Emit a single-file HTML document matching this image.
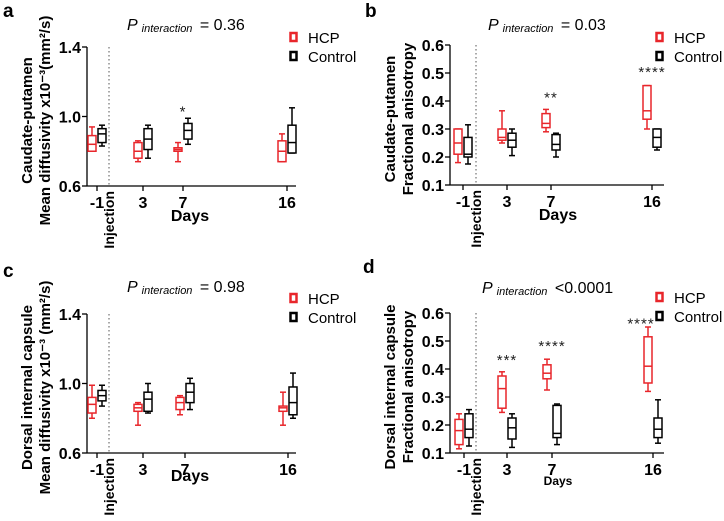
<!DOCTYPE html>
<html><head><meta charset="utf-8"><style>
body{margin:0;background:#fff;}
svg{display:block;font-family:"Liberation Sans",sans-serif;}
</style></head><body>
<svg id="fig" width="724" height="521" viewBox="0 0 724 521"></svg>
<script>
const days = ["-1","3","7","16"];
// [whiskerLow, q1, median, q3, whiskerHigh]
const aHCP  = [[.80,.80,.84,.89,.94],[.74,.76,.80,.85,.86],[.74,.80,.81,.82,.85],[.74,.74,.80,.86,.90]];
const aCtrl = [[.83,.85,.90,.93,.95],[.76,.81,.87,.93,.95],[.84,.87,.92,.96,.99],[.79,.79,.85,.95,1.05]];
const bHCP  = [[.18,.21,.25,.30,.30],[.25,.26,.27,.30,.365],[.29,.305,.32,.355,.37],[.30,.335,.365,.455,.455]];
const bCtrl = [[.175,.20,.21,.27,.315],[.205,.235,.26,.285,.30],[.20,.225,.245,.28,.285],[.225,.235,.27,.30,.30]];
const cHCP  = [[.80,.83,.88,.92,.99],[.76,.84,.86,.88,.89],[.82,.85,.89,.92,.93],[.76,.84,.86,.87,.95]];
const cCtrl = [[.87,.90,.93,.96,.99],[.83,.84,.91,.95,1.00],[.85,.89,.95,1.00,1.03],[.80,.82,.89,.98,1.06]];
const dHCP  = [[.115,.13,.18,.22,.24],[.245,.26,.33,.375,.39],[.325,.365,.385,.415,.435],[.32,.35,.41,.515,.55]];
const dCtrl = [[.125,.155,.185,.24,.255],[.12,.15,.19,.225,.24],[.13,.155,.17,.27,.275],[.135,.155,.185,.225,.29]];
const mdTicks = [0.6,1.0,1.4];
const faTicks = [0.1,0.2,0.3,0.4,0.5,0.6];
const bStars = [["",0],["",0],["**",0.42],["****",0.51]];
const dStars = [["",0],["***",0.44],["****",0.49],["****",0.57]];
const pVals = ["= 0.36","= 0.03","= 0.98","<0.0001"];

const NS="http://www.w3.org/2000/svg";
const svg=document.getElementById('fig');
function mk(tag,attrs,parent,text){const e=document.createElementNS(NS,tag);for(const k in attrs)e.setAttribute(k,attrs[k]);if(text!==undefined)e.textContent=text;(parent||svg).appendChild(e);return e;}
const RED="#e8262b";

const panels=[
 {letter:"a",lx:3,ly:17,ax:87,top:47,bot:186,xend:296,tx:[97,143,183,287],dot:109,vmin:.6,vmax:1.4,ticks:mdTicks,hcp:aHCP,ctrl:aCtrl,stars:[["",0],["",0],["*",1.04],["",0]],p:pVals[0],px:127,py:30,y1:"Caudate-putamen",y2:"Mean diffusivity x10\u207B\u00B3(mm\u00B2/s)",leg:[290,38],days:[190,221,15],oy:0},
 {letter:"b",lx:365,ly:17,ax:450,top:45,bot:185,xend:664,tx:[463,507,551,652],dot:476,vmin:.1,vmax:.6,ticks:faTicks,hcp:bHCP,ctrl:bCtrl,stars:bStars,p:pVals[1],px:488,py:30,y1:"Caudate-putamen",y2:"Fractional anisotropy",leg:[656,38],days:[558,220,15],oy:0},
 {letter:"c",lx:3,ly:277,ax:87,top:314,bot:453,xend:296,tx:[97,143,185,288],dot:109,vmin:.6,vmax:1.4,ticks:mdTicks,hcp:cHCP,ctrl:cCtrl,stars:[["",0],["",0],["",0],["",0]],p:pVals[2],px:127,py:292,y1:"Dorsal internal capsule",y2:"Mean diffusivity x10\u207B\u00B3 (mm\u00B2/s)",leg:[290,299],days:[190,481,15],oy:260},
 {letter:"d",lx:363,ly:273,ax:450,top:313,bot:453,xend:664,tx:[464,507,552,653],dot:476,vmin:.1,vmax:.6,ticks:faTicks,hcp:dHCP,ctrl:dCtrl,stars:dStars,p:pVals[3],px:482,py:293,y1:"Dorsal internal capsule",y2:"Fractional anisotropy",leg:[656,298],days:[558,485,11],oy:260}
];

panels.forEach((P,pi)=>{
  const g=mk('g',{});
  
  
  const y=v=>P.bot-(v-P.vmin)/(P.vmax-P.vmin)*(P.bot-P.top);
  const L=mk('text',{x:P.lx,y:P.ly,'font-size':19,'font-weight':'bold'},g,P.letter);
  
  
  const t=mk('text',{x:P.px,y:P.py,'font-size':16},g);
  
  
  mk('tspan',{'font-style':'italic'},t,'P');
  mk('tspan',{'font-style':'italic','font-size':11,dx:4,dy:2},t,'interaction');
  mk('tspan',{dx:3,dy:-2},t,' '+P.p);
  const ya=mk('line',{x1:P.ax,y1:P.top,x2:P.ax,y2:P.bot,stroke:'#000','stroke-width':1.3},g);
  
  
  const xa=mk('line',{x1:P.ax,y1:P.bot,x2:P.xend,y2:P.bot,stroke:'#000','stroke-width':1.3},g);
  
  
  P.ticks.forEach(v=>{
    mk('line',{x1:P.ax-5,y1:y(v),x2:P.ax,y2:y(v),stroke:'#000','stroke-width':1.3},g);
    const tl=mk('text',{x:P.ax-6,y:y(v)+6,'font-size':16,'font-weight':'bold','text-anchor':'end'},g,v.toFixed(1));
    
    
  });
  days.forEach((d,i)=>{
    const x=P.tx[i];
    mk('line',{x1:x,y1:P.bot,x2:x,y2:P.bot+5,stroke:'#000','stroke-width':1.3},g);
    const tl=mk('text',{x:x,y:P.bot+22,'font-size':16,'font-weight':'bold','text-anchor':'middle'},g,d);
    
    
    [[P.hcp[i],RED,-5],[P.ctrl[i],'#000',5]].forEach(([b,c,off],k)=>{
      const cx=x+off, hw=4;
      const bg=mk('g',{stroke:c,'stroke-width':1.5,fill:'#fff'},g);
      
      
      mk('line',{x1:cx,y1:y(b[0]),x2:cx,y2:y(b[4])},bg);
      mk('line',{x1:cx-3,y1:y(b[0]),x2:cx+3,y2:y(b[0])},bg);
      mk('line',{x1:cx-3,y1:y(b[4]),x2:cx+3,y2:y(b[4])},bg);
      mk('rect',{x:cx-hw,y:y(b[3]),width:hw*2,height:Math.max(1,y(b[1])-y(b[3]))},bg);
      mk('line',{x1:cx-hw,y1:y(b[2]),x2:cx+hw,y2:y(b[2])},bg);
    });
    const s=P.stars[i];
    if(s[0]){
      const sx = i===3 && pi===3 ? x-12 : x;
      const st=mk('text',{x:sx,y:y(s[1])+7,'font-size':15,'text-anchor':'middle',fill:'#222','letter-spacing':'1'},g,s[0]);
      
      
    }
  });
  const dl=mk('line',{x1:P.dot,y1:P.top,x2:P.dot,y2:P.bot,stroke:'#555','stroke-width':1,'stroke-dasharray':'1.5,2.5'},g);
  
  
  const inj=mk('text',{x:0,y:0,'font-size':14,'font-weight':'bold','text-anchor':'end',transform:`translate(${P.dot+5},${P.bot+5}) rotate(-90)`},g,'Injection');
  
  
  const dy=mk('text',{x:P.days[0],y:P.days[1],'font-size':P.days[2]+1,'font-weight':'bold','text-anchor':'middle'},g,'Days');
  
  
  const mid=(P.top+P.bot)/2;
  const y1=mk('text',{x:0,y:0,'font-size':15,'font-weight':'bold','text-anchor':'middle',transform:`translate(${P.ax-55},${mid+4}) rotate(-90)`},g,P.y1);
  
  
  const y2=mk('text',{x:0,y:0,'font-size':15,'font-weight':'bold','text-anchor':'middle',transform:`translate(${P.ax-37},${mid+4}) rotate(-90)`},g,P.y2);
  
  
  [["HCP",RED],["Control","#000"]].forEach(([n,c],k)=>{
    const ly=P.leg[1]+k*19;
    const lg=mk('g',{},g);
    
    
    mk('rect',{x:P.leg[0]+0.5,y:ly-5,width:6,height:8,fill:'#fff',stroke:c,'stroke-width':2.5},lg);
    mk('text',{x:P.leg[0]+18,y:ly+5,'font-size':15},lg,n);
  });
});
</script>
</body></html>
